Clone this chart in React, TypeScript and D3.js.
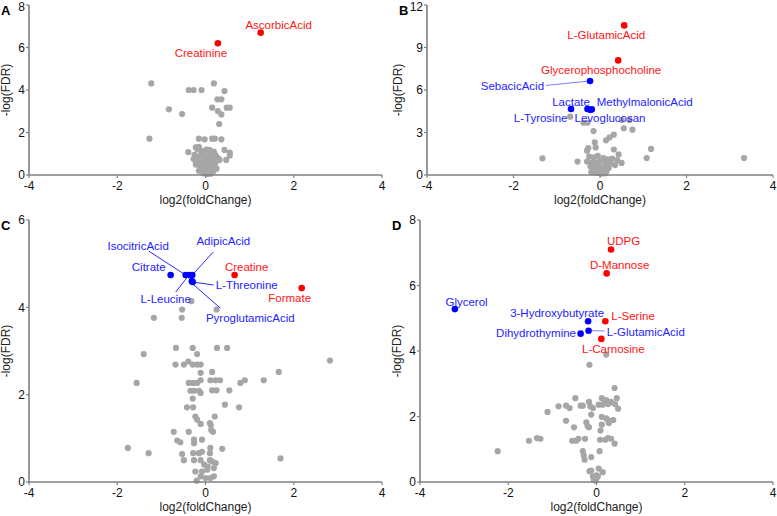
import React from 'react';
import * as d3 from 'd3';

type Pt = [number, number];
type Sig = { name: string; fc: number; fdr: number; dir: 'up' | 'down' };

const xTicks = [-4, -2, 0, 2, 4];
const yTicksA = [0, 2, 4, 6, 8];
const yTicksB = [0, 3, 6, 9, 12];
const yTicksC = [0, 2, 4, 6];
const yTicksD = [0, 2, 4, 6, 8];

const grayA: Pt[] = [
  [-1.23, 4.31], [0.19, 4.31], [-0.38, 4.0], [-0.27, 4.0], [-0.09, 4.0], [0.43, 3.95],
  [0.27, 3.56], [0.36, 3.56], [-0.83, 3.09], [0.15, 3.17], [0.28, 3.01], [0.36, 2.85],
  [0.48, 3.17], [0.55, 3.17], [-0.53, 2.87], [0.31, 2.4], [-1.27, 1.71], [-0.15, 1.71],
  [-0.02, 1.68], [0.15, 1.71], [0.21, 1.71], [0.36, 1.68], [-0.39, 1.08], [-0.15, 1.33],
  [0.43, 1.18], [0.55, 1.05], [0.55, 0.92], [0.32, 0.71], [0.47, 0.71], [0.09, 1.18],
  [0.19, 1.1], [0.3, 0.76],
  [-0.22, 1.3], [-0.18, 1.2], [-0.1, 1.15], [0.02, 1.2], [0.1, 1.05], [0.15, 1.0],
  [-0.25, 0.95], [-0.2, 0.85], [-0.12, 0.9], [-0.05, 1.0], [0.05, 0.9], [0.12, 0.85],
  [0.22, 0.95], [-0.27, 0.75], [-0.15, 0.7], [-0.08, 0.78], [0.0, 0.72], [0.08, 0.68],
  [0.18, 0.75], [-0.2, 0.6], [-0.1, 0.55], [-0.02, 0.6], [0.06, 0.52], [0.14, 0.58],
  [0.22, 0.55], [-0.15, 0.45], [-0.05, 0.4], [0.03, 0.42], [0.1, 0.38], [0.2, 0.4],
  [-0.12, 0.3], [-0.03, 0.28], [0.07, 0.25], [0.15, 0.28], [-0.08, 0.18], [0.0, 0.15],
  [0.1, 0.12], [0.18, 0.18], [-0.05, 0.08], [0.05, 0.05], [0.12, 0.06], [-0.15, 0.2],
  [0.25, 0.3], [-0.22, 0.5], [0.25, 0.85],
];
const sigA: Sig[] = [
  { name: 'AscorbicAcid', fc: 1.25, fdr: 6.7, dir: 'up' },
  { name: 'Creatinine', fc: 0.28, fdr: 6.2, dir: 'up' },
];

const grayB: Pt[] = [
  [-1.33, 1.18], [-0.69, 4.12], [-0.38, 3.69], [-0.29, 3.69], [0.5, 3.88], [0.68, 3.88],
  [0.75, 3.2], [0.55, 3.3], [-0.15, 3.1], [0.32, 2.85], [0.22, 2.65], [0.14, 2.45],
  [-0.12, 2.3], [-0.27, 1.9], [-0.3, 1.72], [-0.1, 1.95], [0.32, 1.8], [0.43, 1.45],
  [1.18, 1.84], [1.08, 1.2], [-0.52, 0.95], [3.33, 1.2],
  [-0.25, 1.3], [-0.15, 1.25], [-0.05, 1.35], [0.08, 1.2], [0.18, 1.1], [0.28, 1.15],
  [0.4, 1.05], [0.5, 0.85], [-0.3, 0.95], [-0.2, 0.85], [-0.1, 0.9], [0.0, 1.0],
  [0.12, 0.85], [0.25, 0.8], [0.35, 0.7], [-0.22, 0.6], [-0.12, 0.55], [-0.02, 0.65],
  [0.1, 0.55], [0.2, 0.5], [-0.15, 0.35], [-0.05, 0.3], [0.05, 0.35], [0.15, 0.25],
  [-0.08, 0.15], [0.03, 0.1], [0.12, 0.12], [-0.2, 0.2],
];
const sigB: Sig[] = [
  { name: 'L-GlutamicAcid', fc: 0.56, fdr: 10.56, dir: 'up' },
  { name: 'Glycerophosphocholine', fc: 0.42, fdr: 8.09, dir: 'up' },
  { name: 'SebacicAcid', fc: -0.23, fdr: 6.64, dir: 'down' },
  { name: 'Lactate', fc: -0.67, fdr: 4.66, dir: 'down' },
  { name: 'L-Tyrosine', fc: -0.29, fdr: 4.66, dir: 'down' },
  { name: 'Levoglucosan', fc: -0.23, fdr: 4.6, dir: 'down' },
  { name: 'MethylmalonicAcid', fc: -0.19, fdr: 4.63, dir: 'down' },
];

const grayC: Pt[] = [
  [-0.32, 4.14], [-0.53, 3.95], [0.25, 3.95], [-1.17, 3.76], [-0.54, 3.76],
  [-0.67, 3.07], [-0.29, 3.07], [0.26, 3.07], [0.49, 3.07], [-1.4, 2.93], [-0.19, 2.93],
  [-0.68, 2.69], [-0.49, 2.69], [-0.39, 2.76], [-0.29, 2.69], [-0.19, 2.69], [-0.11, 2.69],
  [2.82, 2.78], [1.66, 2.52], [0.15, 2.52], [-0.11, 2.5],
  [-1.56, 2.27], [-0.38, 2.27], [-0.28, 2.27], [-0.19, 2.27], [-0.11, 2.33],
  [0.11, 2.33], [0.23, 2.33], [0.33, 2.33], [0.79, 2.27], [0.89, 2.33], [1.32, 2.33],
  [-0.34, 2.09], [-0.26, 2.09], [-0.15, 2.09], [-0.11, 2.04], [0.15, 2.1], [0.25, 2.1], [0.54, 2.1],
  [-0.29, 1.91], [-0.42, 1.71], [-0.28, 1.71], [0.44, 1.77], [0.76, 1.71],
  [-0.23, 1.5], [-0.19, 1.43], [-0.11, 1.33], [0.21, 1.5], [0.1, 1.35], [0.12, 1.3],
  [-0.72, 1.15], [-0.38, 1.15], [-0.64, 0.95], [-0.57, 0.91], [0.13, 1.19], [0.17, 1.15],
  [-0.26, 0.97], [-0.26, 0.89], [-0.08, 0.97],
  [-1.76, 0.78], [-1.29, 0.66], [0.11, 0.78], [0.38, 0.76],
  [-0.28, 0.66], [-0.15, 0.66], [-0.08, 0.69], [0.1, 0.66], [-0.53, 0.64], [-0.49, 0.5],
  [-0.26, 0.5], [-0.11, 0.5], [0.1, 0.5], [0.15, 0.47], [0.23, 0.43], [1.7, 0.54],
  [-0.23, 0.24], [-0.08, 0.24], [0.04, 0.28], [0.19, 0.32], [-0.11, 0.13], [0.0, 0.09],
  [0.11, 0.09], [-0.2, 0.03], [0.19, 0.13], [0.05, 0.35], [-0.03, 0.4],
];
const sigC: Sig[] = [
  { name: 'Creatine', fc: 0.66, fdr: 4.74, dir: 'up' },
  { name: 'Formate', fc: 2.18, fdr: 4.44, dir: 'up' },
  { name: 'Citrate', fc: -0.79, fdr: 4.74, dir: 'down' },
  { name: 'IsocitricAcid', fc: -0.45, fdr: 4.74, dir: 'down' },
  { name: 'L-Leucine', fc: -0.37, fdr: 4.74, dir: 'down' },
  { name: 'AdipicAcid', fc: -0.3, fdr: 4.74, dir: 'down' },
  { name: 'L-Threonine', fc: -0.29, fdr: 4.58, dir: 'down' },
  { name: 'PyroglutamicAcid', fc: -0.31, fdr: 4.6, dir: 'down' },
];

const grayD: Pt[] = [
  [0.22, 3.89], [-0.16, 3.58], [0.41, 2.87], [-0.48, 2.56], [0.46, 2.56],
  [-0.17, 2.45], [0.12, 2.56], [0.2, 2.45], [0.26, 2.38], [0.33, 2.45], [0.42, 2.38],
  [0.14, 2.36], [0.05, 2.36], [0.22, 2.5], [0.3, 2.42],
  [-0.69, 2.33], [-0.61, 2.26], [-0.86, 2.31], [-0.36, 2.33], [-0.31, 2.33], [-0.14, 2.31],
  [-0.08, 2.26], [0.49, 2.24],
  [-1.11, 2.14], [-0.12, 2.06], [0.12, 1.99], [0.22, 1.94], [0.26, 1.89], [0.38, 1.89],
  [-0.69, 1.87], [-0.23, 1.82], [-0.51, 1.67], [-0.2, 1.7], [-0.17, 1.67], [0.12, 1.75],
  [0.09, 1.57], [0.28, 1.8],
  [-1.53, 1.26], [-1.35, 1.34], [-1.27, 1.32], [-0.55, 1.26], [-0.46, 1.26], [-0.41, 1.32],
  [-0.26, 1.32], [0.08, 1.29], [0.2, 1.29], [0.26, 1.34], [0.33, 1.32], [0.41, 1.17],
  [-2.24, 0.94], [-0.31, 0.94], [-0.29, 0.81], [-0.27, 0.68], [-0.12, 0.76], [0.07, 0.94],
  [-0.16, 0.33], [-0.12, 0.35], [0.05, 0.41], [0.14, 0.3],
  [-0.08, 0.17], [-0.05, 0.12], [-0.01, 0.1], [0.03, 0.17], [-0.06, 0.07], [-0.02, 0.04], [0.0, 0.2],
];
const sigD: Sig[] = [
  { name: 'UDPG', fc: 0.33, fdr: 7.1, dir: 'up' },
  { name: 'D-Mannose', fc: 0.23, fdr: 6.37, dir: 'up' },
  { name: 'L-Serine', fc: 0.2, fdr: 4.91, dir: 'up' },
  { name: 'L-Carnosine', fc: 0.11, fdr: 4.37, dir: 'up' },
  { name: 'Glycerol', fc: -3.21, fdr: 5.28, dir: 'down' },
  { name: '3-Hydroxybutyrate', fc: -0.19, fdr: 4.91, dir: 'down' },
  { name: 'Dihydrothymine', fc: -0.36, fdr: 4.53, dir: 'down' },
  { name: 'L-GlutamicAcid', fc: -0.18, fdr: 4.62, dir: 'down' },
];

// ---- layout (pixel offsets for labels relative to their point) ----
type Lab = { dx: number; dy: number; anchor: 'start' | 'middle' | 'end'; line?: [number, number, number, number] };
const layoutA: Record<string, Lab> = {
  AscorbicAcid: { dx: 18, dy: -4, anchor: 'middle' },
  Creatinine: { dx: -17, dy: 14, anchor: 'middle' },
};
const layoutB: Record<string, Lab> = {
  'L-GlutamicAcid': { dx: -18, dy: 14, anchor: 'middle' },
  Glycerophosphocholine: { dx: -17, dy: 14, anchor: 'middle' },
  SebacicAcid: { dx: -46, dy: 9, anchor: 'end', line: [0, 0, -44, 4.5] },
  Lactate: { dx: 0, dy: -3, anchor: 'middle' },
  'L-Tyrosine': { dx: -20, dy: 13, anchor: 'end' },
  Levoglucosan: { dx: 20, dy: 12, anchor: 'middle' },
  MethylmalonicAcid: { dx: 5, dy: -3, anchor: 'start' },
};
const layoutC: Record<string, Lab> = {
  Creatine: { dx: 12, dy: -4, anchor: 'middle' },
  Formate: { dx: -12, dy: 14, anchor: 'middle' },
  Citrate: { dx: -5, dy: -4, anchor: 'end' },
  IsocitricAcid: { dx: -47.5, dy: -25, anchor: 'middle', line: [-37, -24, 0, 0] },
  'L-Leucine': { dx: -23.5, dy: 28, anchor: 'middle', line: [-13.5, 17, -2.5, 3] },
  AdipicAcid: { dx: 31, dy: -30, anchor: 'middle', line: [21, -23, 0, 0] },
  'L-Threonine': { dx: 23, dy: 7, anchor: 'start', line: [0, 0, 21, 3] },
  PyroglutamicAcid: { dx: 58.5, dy: 41, anchor: 'middle', line: [0, 2, 28.5, 27] },
};
const layoutD: Record<string, Lab> = {
  UDPG: { dx: 12.5, dy: -4.3, anchor: 'middle' },
  'D-Mannose': { dx: 13, dy: -4.3, anchor: 'middle' },
  'L-Serine': { dx: 6, dy: -1, anchor: 'start' },
  'L-Carnosine': { dx: 12, dy: 14, anchor: 'middle' },
  Glycerol: { dx: 11.7, dy: -3.5, anchor: 'middle' },
  '3-Hydroxybutyrate': { dx: -31, dy: -4.3, anchor: 'middle' },
  Dihydrothymine: { dx: -4.6, dy: 3.3, anchor: 'end' },
  'L-GlutamicAcid': { dx: 18.3, dy: 5.6, anchor: 'start', line: [3, 0, 16, 0.3] },
};

const FONT = '"Liberation Sans", Arial, Helvetica, sans-serif';
const GRAY = '#a6a6a6';
const RED = '#ff0000';
const BLUE = '#0000ff';
const RED_TXT = '#ff1414';
const BLUE_TXT = '#2424ff';
const AXIS = '#808080';

type PanelProps = {
  letter: string;
  x0: number; x1: number; yTop: number; yBot: number;
  yMax: number; yTicks: number[];
  gray: Pt[]; sig: Sig[]; layout: Record<string, Lab>;
  titleX: number; lineColor: string;
};

function Panel(p: PanelProps) {
  const x = d3.scaleLinear().domain([-4, 4]).range([p.x0, p.x1]);
  const y = d3.scaleLinear().domain([0, p.yMax]).range([p.yBot, p.yTop]);
  const cx = (p.x0 + p.x1) / 2;
  const cy = (p.yTop + p.yBot) / 2;
  return (
    <g fontFamily={FONT}>
      <text x={p.x0 - 28} y={p.yTop + 10} fontSize={13} fontWeight="bold" fill="#000">{p.letter}</text>
      {p.gray.map((d, i) => (
        <circle key={'g' + i} cx={x(d[0])} cy={y(d[1])} r={3.1} fill={GRAY} />
      ))}
      {p.sig.map((s) => {
        const l = p.layout[s.name];
        if (!l || !l.line) return null;
        const px = x(s.fc), py = y(s.fdr);
        return (
          <line key={'l' + s.name} x1={px + l.line[0]} y1={py + l.line[1]} x2={px + l.line[2]} y2={py + l.line[3]}
            stroke={p.lineColor} strokeWidth={1} />
        );
      })}
      {p.sig.map((s) => (
        <circle key={'s' + s.name} cx={x(s.fc)} cy={y(s.fdr)} r={3.3} fill={s.dir === 'up' ? RED : BLUE} />
      ))}
      {p.sig.map((s) => {
        const l = p.layout[s.name];
        return (
          <text key={'t' + s.name} x={x(s.fc) + l.dx} y={y(s.fdr) + l.dy} textAnchor={l.anchor}
            fontSize={11.5} fill={s.dir === 'up' ? RED_TXT : BLUE_TXT}>{s.name}</text>
        );
      })}
      <line x1={p.x0} x2={p.x1} y1={p.yBot} y2={p.yBot} stroke={AXIS} strokeWidth={1.6} />
      <line x1={p.x0} x2={p.x0} y1={p.yTop} y2={p.yBot} stroke={AXIS} strokeWidth={1.6} />
      {xTicks.map((t) => (
        <g key={'xt' + t}>
          <line x1={x(t)} x2={x(t)} y1={p.yBot} y2={p.yBot + 3} stroke={AXIS} strokeWidth={1.2} />
          <text x={x(t)} y={p.yBot + 14.5} textAnchor="middle" fontSize={12} fill="#111">{t}</text>
        </g>
      ))}
      {p.yTicks.map((t) => (
        <g key={'yt' + t}>
          <line x1={p.x0 - 3} x2={p.x0} y1={y(t)} y2={y(t)} stroke={AXIS} strokeWidth={1.2} />
          <text x={p.x0 - 4} y={Math.max(y(t), 7)} dy="0.35em" textAnchor="end" fontSize={12} fill="#111">{t}</text>
        </g>
      ))}
      <text x={cx} y={p.yBot + 28.5} textAnchor="middle" fontSize={12} fill="#222">log2(foldChange)</text>
      <text transform={`translate(${p.titleX},${cy}) rotate(-90)`} textAnchor="middle" fontSize={12} fill="#222">-log(FDR)</text>
    </g>
  );
}

export default function App() {
  return (
    <svg width={777} height={516} style={{ position: 'absolute', left: 0, top: 0, background: '#fff' }}>
      <rect width={777} height={516} fill="#fff" />
      <Panel letter="A" x0={29} x1={382} yTop={5} yBot={175} yMax={8} yTicks={yTicksA}
        gray={grayA} sig={sigA} layout={layoutA} titleX={10} lineColor="#7b7bff" />
      <Panel letter="B" x0={427} x1={773} yTop={5} yBot={175} yMax={12} yTicks={yTicksB}
        gray={grayB} sig={sigB} layout={layoutB} titleX={402} lineColor="#7b7bff" />
      <Panel letter="C" x0={29} x1={382} yTop={220} yBot={482} yMax={6} yTicks={yTicksC}
        gray={grayC} sig={sigC} layout={layoutC} titleX={10} lineColor="#2a2aff" />
      <Panel letter="D" x0={420} x1={773} yTop={220} yBot={482} yMax={8} yTicks={yTicksD}
        gray={grayD} sig={sigD} layout={layoutD} titleX={401} lineColor="#8080ff" />
    </svg>
  );
}
